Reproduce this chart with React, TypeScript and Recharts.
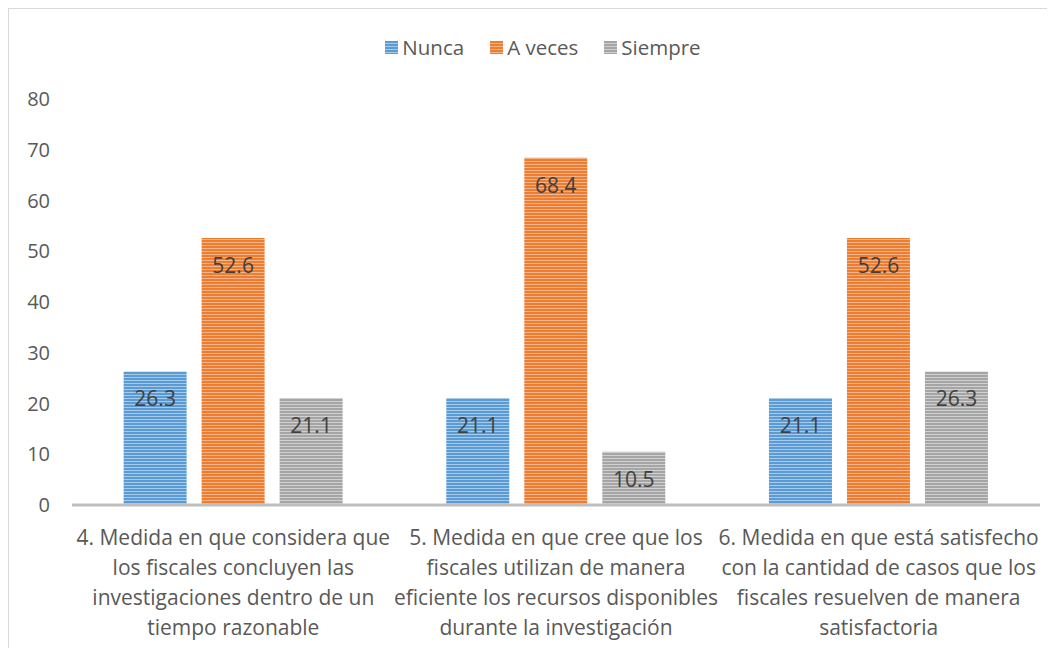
import { BarChart, Bar, XAxis, YAxis, LabelList } from 'recharts'

const categories = ['q4', 'q5', 'q6']
const categoryLines = [
  ['4. Medida en que considera que', 'los fiscales concluyen las', 'investigaciones dentro de un', 'tiempo razonable'],
  ['5. Medida en que cree que los', 'fiscales utilizan de manera', 'eficiente los recursos disponibles', 'durante la investigación'],
  ['6. Medida en que está satisfecho', 'con la cantidad de casos que los', 'fiscales resuelven de manera', 'satisfactoria'],
]
const nunca = [26.3, 21.1, 21.1]
const aVeces = [52.6, 68.4, 52.6]
const siempre = [21.1, 10.5, 26.3]
const yTicks = [0, 10, 20, 30, 40, 50, 60, 70, 80]

const SERIES = [
  { key: 'nunca', name: 'Nunca', color: '#5B9BD5', light: '#A9CBEA' },
  { key: 'aVeces', name: 'A veces', color: '#ED7D31', light: '#F5B38A' },
  { key: 'siempre', name: 'Siempre', color: '#A5A5A5', light: '#D0D0D0' },
]

const data = categories.map((c, i) => ({
  cat: c,
  nunca: nunca[i],
  aVeces: aVeces[i],
  siempre: siempre[i],
}))

const FONT = '"Open Sans", sans-serif'

function CatTick(props: any) {
  const { x, y, payload } = props
  const lines = categoryLines[categories.indexOf(payload.value)] || []
  return (
    <g>
      {lines.map((l, i) => (
        <text key={i} x={x} y={y + 32 + i * 30} textAnchor="middle" fill="#595959" fontSize={21} fontFamily={FONT}>
          {l}
        </text>
      ))}
    </g>
  )
}

export default function App() {
  return (
    <div style={{ position: 'relative', width: 1050, height: 645, border: '1px solid #D9D9D9', background: '#fff' }}>
      <svg width={0} height={0} style={{ position: 'absolute' }}>
        <defs>
          {SERIES.map((s) => (
            <pattern key={s.key} id={`stripe-${s.key}`} width={4} height={3} patternUnits="userSpaceOnUse">
              <rect width={4} height={3} fill={s.color} />
              <rect y={2} width={4} height={1} fill={s.light} />
            </pattern>
          ))}
        </defs>
      </svg>
      <div
        style={{
          position: 'absolute', top: 24, left: 18, right: 0,
          display: 'flex', justifyContent: 'center', gap: 26,
          fontFamily: FONT, fontSize: 20.5, color: '#595959',
        }}
      >
        {SERIES.map((s) => (
          <div key={s.key} style={{ display: 'flex', alignItems: 'center', gap: 4 }}>
            <svg width={13} height={13}>
              <rect width={13} height={13} fill={`url(#stripe-${s.key})`} />
            </svg>
            <span>{s.name}</span>
          </div>
        ))}
      </div>
      <BarChart
        width={1048}
        height={645}
        data={data}
        margin={{ top: 90, right: 17, bottom: 19, left: 0 }}
        barCategoryGap="16%"
        barGap={15}
      >
        <XAxis
          dataKey="cat"
          height={130}
          tick={<CatTick />}
          tickLine={false}
          axisLine={{ stroke: '#BFBFBF', strokeWidth: 3 }}
          interval={0}
        />
        <YAxis
          width={63}
          domain={[0, 80]}
          ticks={yTicks}
          axisLine={false}
          tickLine={false}
          tickMargin={22}
          tickSize={0}
          tick={{ fill: '#595959', fontSize: 20, fontFamily: FONT }}
        />
        {SERIES.map((s) => (
          <Bar key={s.key} dataKey={s.key} name={s.name} fill={`url(#stripe-${s.key})`} isAnimationActive={false}>
            <LabelList
              dataKey={s.key}
              position="insideTop"
              offset={20}
              fill="#404040"
              fontSize={21}
              fontFamily={FONT}
            />
          </Bar>
        ))}
      </BarChart>
    </div>
  )
}
